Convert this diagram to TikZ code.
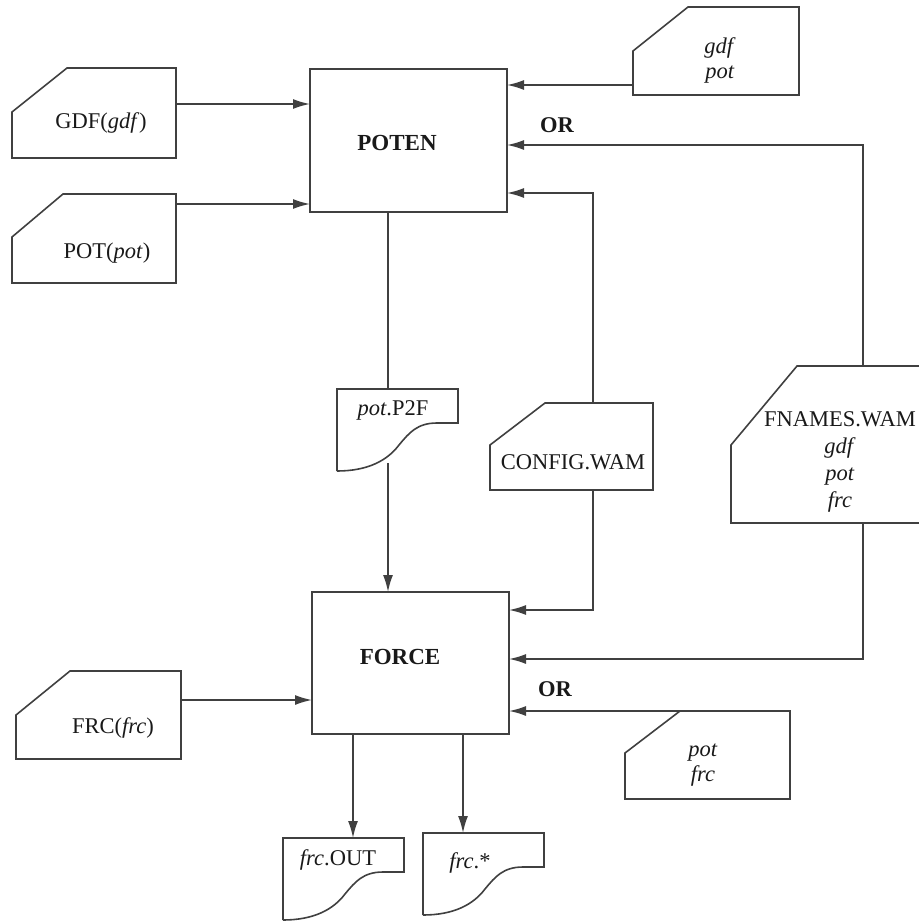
\documentclass[tikz,border=0pt]{standalone}
\usepackage{fontspec}
\setmainfont{Liberation Serif}
\usetikzlibrary{arrows.meta,calc}
\definecolor{WamInk}{gray}{0.25}
\definecolor{WamText}{gray}{0.1}
\tikzset{
    wam/diagram/.style={
        x=1pt, y=-1pt,
        font=\fontsize{22.5}{25}\selectfont,
        text=WamText,
        line join=miter
    },
    wam/line/.style={draw=WamInk, line width=1.6pt},
    wam/arrow/.style={
        draw=WamInk, line width=1.6pt,
        -{Latex[length=17pt, width=10pt]}
    },
    wam/shape/.style={draw=none, inner sep=0pt, outer sep=0pt},
    wam/box/.style={draw=WamInk, line width=1.6pt, inner sep=0pt, outer sep=0pt},
    wam/label/.style={align=center, inner sep=1pt},
    wam/title/.style={font=\fontsize{23}{25}\selectfont\bfseries},
    wam/or/.style={font=\fontsize{22.5}{25}\selectfont\bfseries}
}
% card with a clipped top-left corner: node, cut x, cut y
\newcommand{\wamcard}[3]{%
    \draw[wam/line] ([xshift=#2pt]#1.north west) -- (#1.north east)
        -- (#1.south east) -- (#1.south west)
        -- ([yshift=-#3pt]#1.north west) -- cycle;}
% document with a wavy bottom edge
\newcommand{\wamdoc}[1]{%
    \draw[wam/line] (#1.south west) -- (#1.north west) -- (#1.north east)
        -- ([shift={(121,34)}]#1.north west) -- ([shift={(100,34)}]#1.north west)
        .. controls ([shift={(80,34)}]#1.north west) and ([shift={(72,44)}]#1.north west)
        .. ([shift={(62,56)}]#1.north west)
        .. controls ([shift={(50,72)}]#1.north west) and ([shift={(30,82)}]#1.north west)
        .. (#1.south west);}

\begin{document}
\begin{tikzpicture}[wam/diagram]
    \useasboundingbox (0,0) rectangle (918,923);
    % programs
    \node[wam/box, minimum width=197, minimum height=143] (poten) at (408.5,140.5) {};
    \node[wam/box, minimum width=197, minimum height=142] (force) at (410.5,663) {};
    \node[wam/title] (potentext) at (397,143) {POTEN};
    \node[wam/title] (forcetext) at (400,657) {FORCE};
    % input cards
    \node[wam/shape, minimum width=164, minimum height=90] (gdf) at (94,113) {};
    \node[wam/shape, minimum width=164, minimum height=89] (pot) at (94,238.5) {};
    \node[wam/shape, minimum width=165, minimum height=88] (frc) at (98.5,715) {};
    \node[wam/shape, minimum width=166, minimum height=88] (tr) at (716,51) {};
    \node[wam/shape, minimum width=163, minimum height=87] (cfg) at (571.5,446.5) {};
    \node[wam/shape, minimum width=198, minimum height=157] (fn) at (830,444.5) {};
    \node[wam/shape, minimum width=165, minimum height=88] (pf) at (707.5,755) {};
    \wamcard{gdf}{55}{44}
    \wamcard{pot}{51}{43}
    \wamcard{frc}{54}{44}
    \wamcard{tr}{55}{44}
    \wamcard{cfg}{55}{42}
    \wamcard{fn}{66}{79}
    \wamcard{pf}{55}{42}
    % files
    \node[wam/shape, minimum width=121, minimum height=82] (p2f) at (397.5,430) {};
    \node[wam/shape, minimum width=121, minimum height=82] (out) at (343.5,879) {};
    \node[wam/shape, minimum width=121, minimum height=82] (star) at (483.5,874) {};
    \wamdoc{p2f}
    \wamdoc{out}
    \wamdoc{star}
    % texts
    \node[wam/label] (gdftext) at (101,123) {GDF(\textit{gdf})};
    \node[wam/label] (pottext) at (107,253) {POT(\textit{pot})};
    \node[wam/label] (frctext) at (113,728) {FRC(\textit{frc})};
    \node[wam/label] (trtext) at (720,60) {\textit{gdf}\\\textit{pot}};
    \node[wam/label] (cfgtext) at (573,462) {CONFIG.WAM};
    \node[wam/label, font=\fontsize{22.5}{27}\selectfont] (fntext) at (840,462)
        {FNAMES.WAM\\\textit{gdf}\\\textit{pot}\\\textit{frc}};
    \node[wam/label] (pftext) at (703,765) {\textit{pot}\\\textit{frc}};
    \node[wam/label] (p2ftext) at (393,410) {\textit{pot}.P2F};
    \node[wam/label] (outtext) at (338,860) {\textit{frc}.OUT};
    \node[wam/label] (startext) at (470,863) {\textit{frc}.*};
    \node[wam/or] (or1) at (557,125) {OR};
    \node[wam/or] (or2) at (555,689) {OR};
    % into POTEN
    \draw[wam/arrow] ([yshift=9pt]gdf.east) coordinate (gdfout) -- (gdfout -| poten.west);
    \draw[wam/arrow] ([yshift=34.5pt]pot.east) coordinate (potout) -- (potout -| poten.west);
    \draw[wam/arrow] ([yshift=-34pt]tr.west) coordinate (trout) -- (trout -| poten.east);
    \draw[wam/arrow] ([xshift=33pt]fn.north) |- ([yshift=-4.5pt]poten.east);
    \draw[wam/arrow] ([xshift=21.5pt]cfg.north) |- ([yshift=-52.5pt]poten.east);
    % POTEN to FORCE
    \draw[wam/line] ([xshift=-20.5pt]poten.south) coordinate (p2fin) -- (p2fin |- p2f.north);
    \draw[wam/arrow] ([xshift=-9.5pt, yshift=8pt]p2f.south) coordinate (p2fout) -- (p2fout |- force.north);
    % into FORCE
    \draw[wam/arrow] ([xshift=21.5pt]cfg.south) |- ([yshift=53pt]force.east);
    \draw[wam/arrow] ([xshift=33pt]fn.south) |- ([yshift=4pt]force.east);
    \draw[wam/arrow] ([xshift=55pt]pf.north west) -- ([yshift=-48pt]force.east);
    \draw[wam/arrow] ([yshift=15pt]frc.east) -- ([yshift=-37pt]force.west);
    % out of FORCE
    \draw[wam/arrow] ([xshift=-57.5pt]force.south) coordinate (outin) -- (outin |- out.north);
    \draw[wam/arrow] ([xshift=52.5pt]force.south) coordinate (starin) -- (starin |- star.north);
\end{tikzpicture}
\end{document}
